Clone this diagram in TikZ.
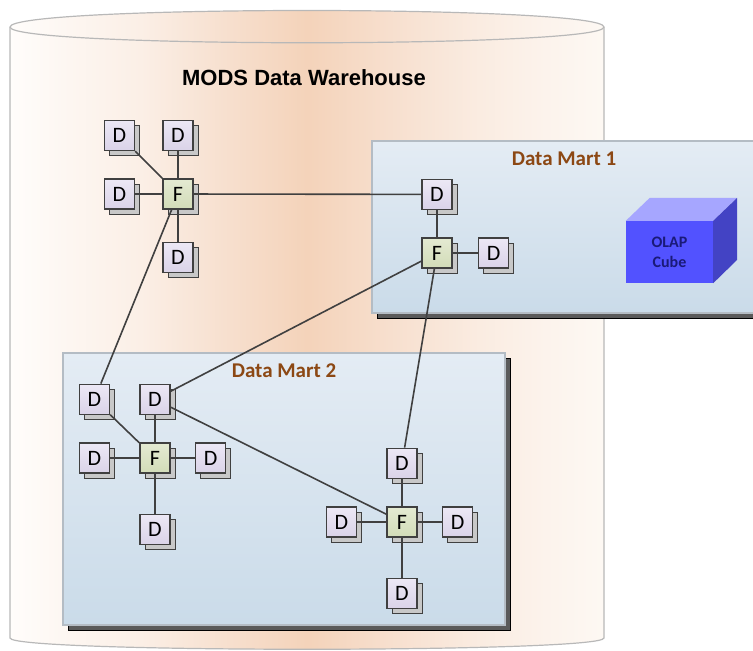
\documentclass[tikz,border=0pt]{standalone}
\usepackage{fontspec}
\setmainfont{Carlito}
\newfontfamily\headfont{Liberation Sans}
\usetikzlibrary{positioning,shadows}

\definecolor{linegray}{RGB}{64,64,64}
\definecolor{dimtop}{RGB}{236,232,245}
\definecolor{dimbot}{RGB}{218,211,232}
\definecolor{facttop}{RGB}{228,234,210}
\definecolor{factbot}{RGB}{210,220,184}
\definecolor{boxshade}{RGB}{200,200,200}
\definecolor{marttop}{RGB}{228,236,244}
\definecolor{martbot}{RGB}{202,219,233}
\definecolor{martedge}{RGB}{180,188,196}
\definecolor{martshade}{RGB}{90,90,90}
\definecolor{martbrown}{RGB}{140,72,20}
\definecolor{cylgray}{RGB}{184,184,184}
\definecolor{cubefront}{RGB}{82,82,255}
\definecolor{cubetop}{RGB}{166,166,255}
\definecolor{cubeside}{RGB}{67,67,196}
\definecolor{cubetext}{RGB}{26,26,120}

% warm band across the warehouse
\pgfdeclarehorizontalshading{warehouseshade}{100bp}{
  rgb(0bp)=(1,0.992,0.984); rgb(25bp)=(1,0.992,0.984);
  rgb(30bp)=(0.992,0.965,0.945); rgb(36bp)=(0.984,0.937,0.902);
  rgb(43bp)=(0.969,0.878,0.812);
  rgb(50bp)=(0.957,0.827,0.729);
  rgb(57bp)=(0.969,0.875,0.808); rgb(64bp)=(0.980,0.922,0.878);
  rgb(70bp)=(0.988,0.953,0.925);
  rgb(75bp)=(0.992,0.973,0.953); rgb(100bp)=(0.992,0.973,0.953)}

\tikzset{
  dim/.style={draw=linegray, line width=1.6pt, top color=dimtop, bottom color=dimbot,
    minimum size=30pt, inner sep=0pt, font=\fontsize{22}{22}\selectfont,
    general shadow={shadow xshift=5pt, shadow yshift=-5pt, fill=boxshade, draw=linegray, line width=1pt}},
  fact/.style={dim, top color=facttop, bottom color=factbot},
  link/.style={draw=linegray, line width=1.6pt},
  mart/.style={draw=martedge, line width=1.5pt, top color=marttop, bottom color=martbot, inner sep=0pt,
    general shadow={shadow xshift=5pt, shadow yshift=-5pt, fill=martshade, draw=black, line width=0.6pt}},
  marttitle/.style={font=\bfseries\fontsize{21}{21}\selectfont, text=martbrown, inner sep=0pt},
}

\begin{document}
\begin{tikzpicture}[x=1pt, y=-1pt, node distance=27pt]
  \useasboundingbox (0,0) rectangle (753,651);
  \clip (0,0) rectangle (753,651);

  % warehouse cylinder
  \path[shading=warehouseshade]
    (10,27) -- (10,638) .. controls (10,653) and (604,653) .. (604,638)
    -- (604,27) .. controls (604,5) and (10,5) .. (10,27) -- cycle;
  \draw[cylgray, line width=1.2pt]
    (10,27) -- (10,638) .. controls (10,653) and (604,653) .. (604,638)
    -- (604,27) .. controls (604,5) and (10,5) .. (10,27) -- cycle;
  \draw[cylgray, line width=1.2pt] (10,27) .. controls (10,48) and (604,48) .. (604,27);
  \node[font=\headfont\bfseries\fontsize{22}{22}\selectfont] (title) at (304,78) {MODS Data Warehouse};

  % data marts
  \node[mart, minimum width=384pt, minimum height=172pt] (dm1) at (564,227) {};
  \node[mart, minimum width=442pt, minimum height=272pt] (dm2) at (284,489) {};
  \node[marttitle, below=11pt of dm1.north] (dm1title) {Data Mart 1};
  \node[marttitle, below=11pt of dm2.north] (dm2title) {Data Mart 2};

  % olap cube
  \node[fill=cubefront, minimum width=87pt, minimum height=62pt, align=center, text=cubetext,
    font=\bfseries\fontsize{16}{20}\selectfont] (olap) at (669.5,252) {OLAP\\Cube};
  \fill[cubetop] (olap.north west) -- ++(24,-23) -- ++(87,0) -- (olap.north east) -- cycle;
  \fill[cubeside] (olap.north east) -- ++(24,-23) -- ++(0,62) -- (olap.south east) -- cycle;

  % warehouse star
  \node[fact] (fw) at (178,194) {F};
  \node[dim, above=of fw] (dw1) {D};
  \node[dim, left=of fw] (dw2) {D};
  \node[dim, above=of dw2] (dw3) {D};
  \node[dim, below=32pt of fw] (dw4) {D};

  % mart 1 star
  \node[fact] (f1) at (437,253) {F};
  \node[dim, above=of f1] (d11) {D};
  \node[dim, right=25pt of f1] (d12) {D};

  % mart 2 stars
  \node[fact] (f2) at (155,458) {F};
  \node[dim, above=of f2] (d21) {D};
  \node[dim, left=29pt of f2] (d22) {D};
  \node[dim, above=of d22] (d23) {D};
  \node[dim, right=24pt of f2] (d24) {D};
  \node[dim, below=40pt of f2] (d25) {D};

  \node[fact] (f3) at (402,522) {F};
  \node[dim, above=of f3] (d31) {D};
  \node[dim, left=29pt of f3] (d32) {D};
  \node[dim, right=24pt of f3] (d33) {D};
  \node[dim, below=40pt of f3] (d34) {D};

  \path[link] (fw) -- (dw1) (fw) -- (dw2) (fw) -- (dw3) (fw) -- (dw4)
    (f1) -- (d11) (f1) -- (d12)
    (f2) -- (d21) (f2) -- (d22) (f2) -- (d23) (f2) -- (d24) (f2) -- (d25)
    (f3) -- (d31) (f3) -- (d32) (f3) -- (d33) (f3) -- (d34)
    (fw) -- (d11) (fw) -- (d23)
    (f1) -- (d21) (f1) -- (d31)
    (d21) -- (f3);
\end{tikzpicture}
\end{document}
